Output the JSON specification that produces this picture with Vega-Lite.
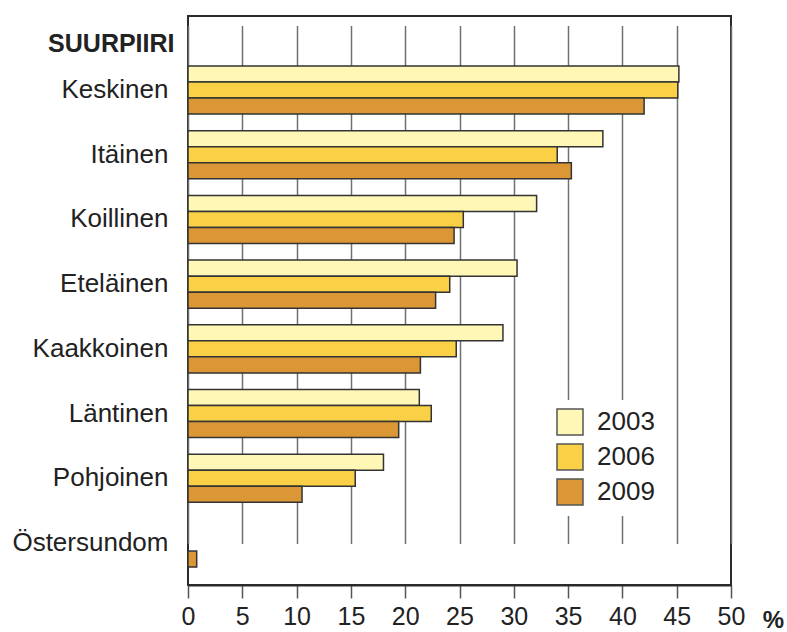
{
  "$schema": "https://vega.github.io/schema/vega-lite/v6.json",
  "width": 543,
  "height": 569,
  "autosize": "none",
  "padding": {"left": 188, "top": 16, "right": 56, "bottom": 47},
  "background": "white",
  "config": {
    "font": "Liberation Sans",
    "view": {"stroke": "#2b2b2b", "strokeWidth": 2}
  },
  "data": {
    "values": [
      {"alue": "Keskinen", "vuosi": "2003", "osuus": 45.2},
      {"alue": "Keskinen", "vuosi": "2006", "osuus": 45.1},
      {"alue": "Keskinen", "vuosi": "2009", "osuus": 42.0},
      {"alue": "Itäinen", "vuosi": "2003", "osuus": 38.2},
      {"alue": "Itäinen", "vuosi": "2006", "osuus": 34.0},
      {"alue": "Itäinen", "vuosi": "2009", "osuus": 35.3},
      {"alue": "Koillinen", "vuosi": "2003", "osuus": 32.1},
      {"alue": "Koillinen", "vuosi": "2006", "osuus": 25.35},
      {"alue": "Koillinen", "vuosi": "2009", "osuus": 24.5},
      {"alue": "Eteläinen", "vuosi": "2003", "osuus": 30.3},
      {"alue": "Eteläinen", "vuosi": "2006", "osuus": 24.1},
      {"alue": "Eteläinen", "vuosi": "2009", "osuus": 22.8},
      {"alue": "Kaakkoinen", "vuosi": "2003", "osuus": 29.0},
      {"alue": "Kaakkoinen", "vuosi": "2006", "osuus": 24.7},
      {"alue": "Kaakkoinen", "vuosi": "2009", "osuus": 21.4},
      {"alue": "Läntinen", "vuosi": "2003", "osuus": 21.3},
      {"alue": "Läntinen", "vuosi": "2006", "osuus": 22.4},
      {"alue": "Läntinen", "vuosi": "2009", "osuus": 19.4},
      {"alue": "Pohjoinen", "vuosi": "2003", "osuus": 18.0},
      {"alue": "Pohjoinen", "vuosi": "2006", "osuus": 15.4},
      {"alue": "Pohjoinen", "vuosi": "2009", "osuus": 10.5},
      {"alue": "Östersundom", "vuosi": "2009", "osuus": 0.8}
    ]
  },
  "mark": {"type": "bar", "stroke": "#333333", "strokeWidth": 1.5},
  "encoding": {
    "y": {
      "field": "alue",
      "type": "nominal",
      "sort": ["Keskinen", "Itäinen", "Koillinen", "Eteläinen", "Kaakkoinen", "Läntinen", "Pohjoinen", "Östersundom"],
      "scale": {"range": [41.6, 559.4], "paddingInner": 0.258, "paddingOuter": 0.129},
      "axis": {
        "title": "SUURPIIRI",
        "titleAngle": 0,
        "titleAlign": "right",
        "titleBaseline": "middle",
        "titleX": -14,
        "titleY": 27,
        "titleFontSize": 25,
        "titleFontWeight": "bold",
        "titleColor": "#222222",
        "ticks": false,
        "domain": false,
        "labelFontSize": 26,
        "labelColor": "#222222",
        "labelPadding": 20
      }
    },
    "yOffset": {
      "field": "vuosi",
      "type": "nominal",
      "scale": {"domain": ["2003", "2006", "2009"], "paddingInner": 0, "paddingOuter": 0}
    },
    "x": {
      "field": "osuus",
      "type": "quantitative",
      "scale": {"domain": [0, 50], "nice": false},
      "axis": {
        "values": [0, 5, 10, 15, 20, 25, 30, 35, 40, 45, 50],
        "labelFlush": false,
        "labelOverlap": false,
        "grid": true,
        "gridColor": "#707070",
        "gridWidth": 1.5,
        "domainColor": "#2b2b2b",
        "domainWidth": 2,
        "tickColor": "#555555",
        "tickWidth": 1.5,
        "tickSize": 13,
        "labelFontSize": 25,
        "labelColor": "#222222",
        "labelPadding": 6,
        "title": "%",
        "titleFontSize": 24,
        "titleFontWeight": "bold",
        "titleColor": "#222222",
        "titleX": 585,
        "titleY": 42,
        "titleAlign": "center",
        "titleBaseline": "alphabetic"
      }
    },
    "fill": {
      "field": "vuosi",
      "type": "nominal",
      "scale": {"domain": ["2003", "2006", "2009"], "range": ["#FEF7B6", "#F9D046", "#DB9736"]},
      "legend": {
        "title": null,
        "orient": "none",
        "legendX": 360,
        "legendY": 384,
        "fillColor": "white",
        "padding": 8,
        "symbolType": "square",
        "symbolSize": 676,
        "symbolStrokeColor": "#555555",
        "symbolStrokeWidth": 1.5,
        "labelFontSize": 26,
        "labelColor": "#222222",
        "labelOffset": 13,
        "rowPadding": 3
      }
    }
  }
}
